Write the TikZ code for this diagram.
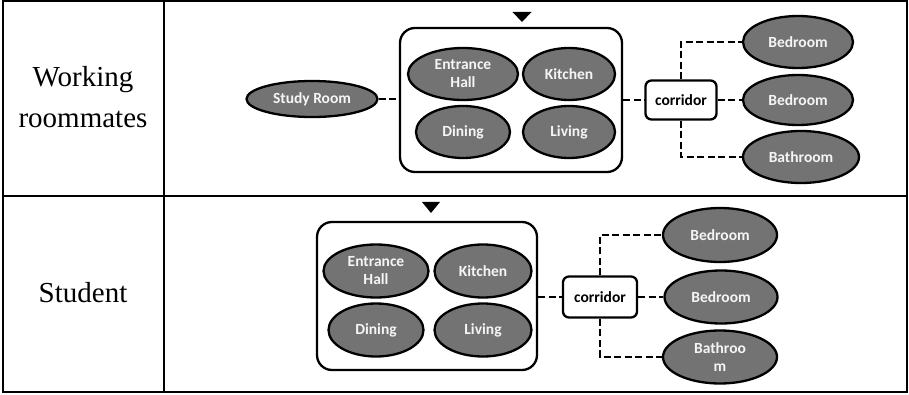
\documentclass[tikz,border=0pt]{standalone}
\usepackage{fontspec}
\setmainfont{Liberation Serif}
\newfontfamily\labfont{Carlito}
\usetikzlibrary{shapes.geometric}
\definecolor{roomfill}{RGB}{115,115,115}
\definecolor{roomtext}{RGB}{245,245,245}
\begin{document}
\begin{tikzpicture}[x=1pt,y=-1pt,
  room/.style={ellipse,draw=black,line width=2.3pt,fill=roomfill,text=roomtext,
    font=\labfont\bfseries\fontsize{15.5}{18}\selectfont,inner sep=0pt,align=center},
  corr/.style={draw,line width=2.3pt,rounded corners=6pt,fill=white,
    font=\labfont\bfseries\fontsize{15.5}{18}\selectfont,inner sep=0pt},
  group/.style={draw,line width=2.3pt,rounded corners=15pt,inner sep=0pt},
  link/.style={line width=2.5pt,dash pattern=on 7pt off 3.5pt},
  rowlabel/.style={font=\fontsize{29}{41}\selectfont,align=center},
  tab/.style={line width=2pt},
  marker/.style={fill=black}]
\useasboundingbox (0,0) rectangle (909,395);
% table
\draw[tab] (3,1) rectangle (907,392);
\draw[tab] (164,1) -- (164,392);
\draw[tab] (3,196) -- (907,196);
\node[rowlabel] (lab1) at (83,97) {Working\\roommates};
\node[rowlabel] (lab2) at (83,293) {Student};
% ---------- row 1 ----------
\node[group,minimum width=222pt,minimum height=144pt] (g1) at (511,100) {};
\fill[marker] (512.5,12) -- (531.5,12) -- (522,22) -- cycle;
\node[room,minimum width=131pt,minimum height=36pt] (study1) at (312,99) {Study Room};
\node[room,minimum width=110pt,minimum height=52pt] (ent1) at (463,74) {Entrance\\Hall};
\node[room,minimum width=92pt,minimum height=52pt] (kit1) at (569,74) {Kitchen};
\node[room,minimum width=94pt,minimum height=52pt] (din1) at (463,132) {Dining};
\node[room,minimum width=92pt,minimum height=52pt] (liv1) at (569,132) {Living};
\node[corr,minimum width=71pt,minimum height=39pt] (c1) at (681,100) {corridor};
\node[room,minimum width=110pt,minimum height=52pt] (bed11) at (798,42) {Bedroom};
\node[room,minimum width=110pt,minimum height=50pt] (bed12) at (798,100) {Bedroom};
\node[room,minimum width=116pt,minimum height=52pt] (bath1) at (801,157) {Bathroom};
\draw[link] (study1.east) -- (study1.east -| g1.west);
\draw[link] (g1.east |- c1.west) -- (c1.west);
\draw[link] (c1.north) |- (bed11.west);
\draw[link] (c1.east) -- (bed12.west);
\draw[link] (c1.south) |- (bath1.west);
% ---------- row 2 ----------
\node[group,minimum width=220pt,minimum height=148pt] (g2) at (427,296) {};
\fill[marker] (422,202) -- (440,202) -- (431,213) -- cycle;
\node[room,minimum width=105pt,minimum height=53pt] (ent2) at (376,271) {Entrance\\Hall};
\node[room,minimum width=97pt,minimum height=53pt] (kit2) at (483,271) {Kitchen};
\node[room,minimum width=95pt,minimum height=53pt] (din2) at (376,330) {Dining};
\node[room,minimum width=97pt,minimum height=53pt] (liv2) at (483,330) {Living};
\node[corr,minimum width=74pt,minimum height=41pt] (c2) at (600,297) {corridor};
\node[room,minimum width=114pt,minimum height=54pt] (bed21) at (720,235) {Bedroom};
\node[room,minimum width=113pt,minimum height=53pt] (bed22) at (721,297) {Bedroom};
\node[room,minimum width=114pt,minimum height=53pt] (bath2) at (720,357) {Bathroo\\m};
\draw[link] (g2.east |- c2.west) -- (c2.west);
\draw[link] (c2.north) |- (bed21.west);
\draw[link] (c2.east) -- (bed22.west);
\draw[link] (c2.south) |- (bath2.west);
\end{tikzpicture}
\end{document}
